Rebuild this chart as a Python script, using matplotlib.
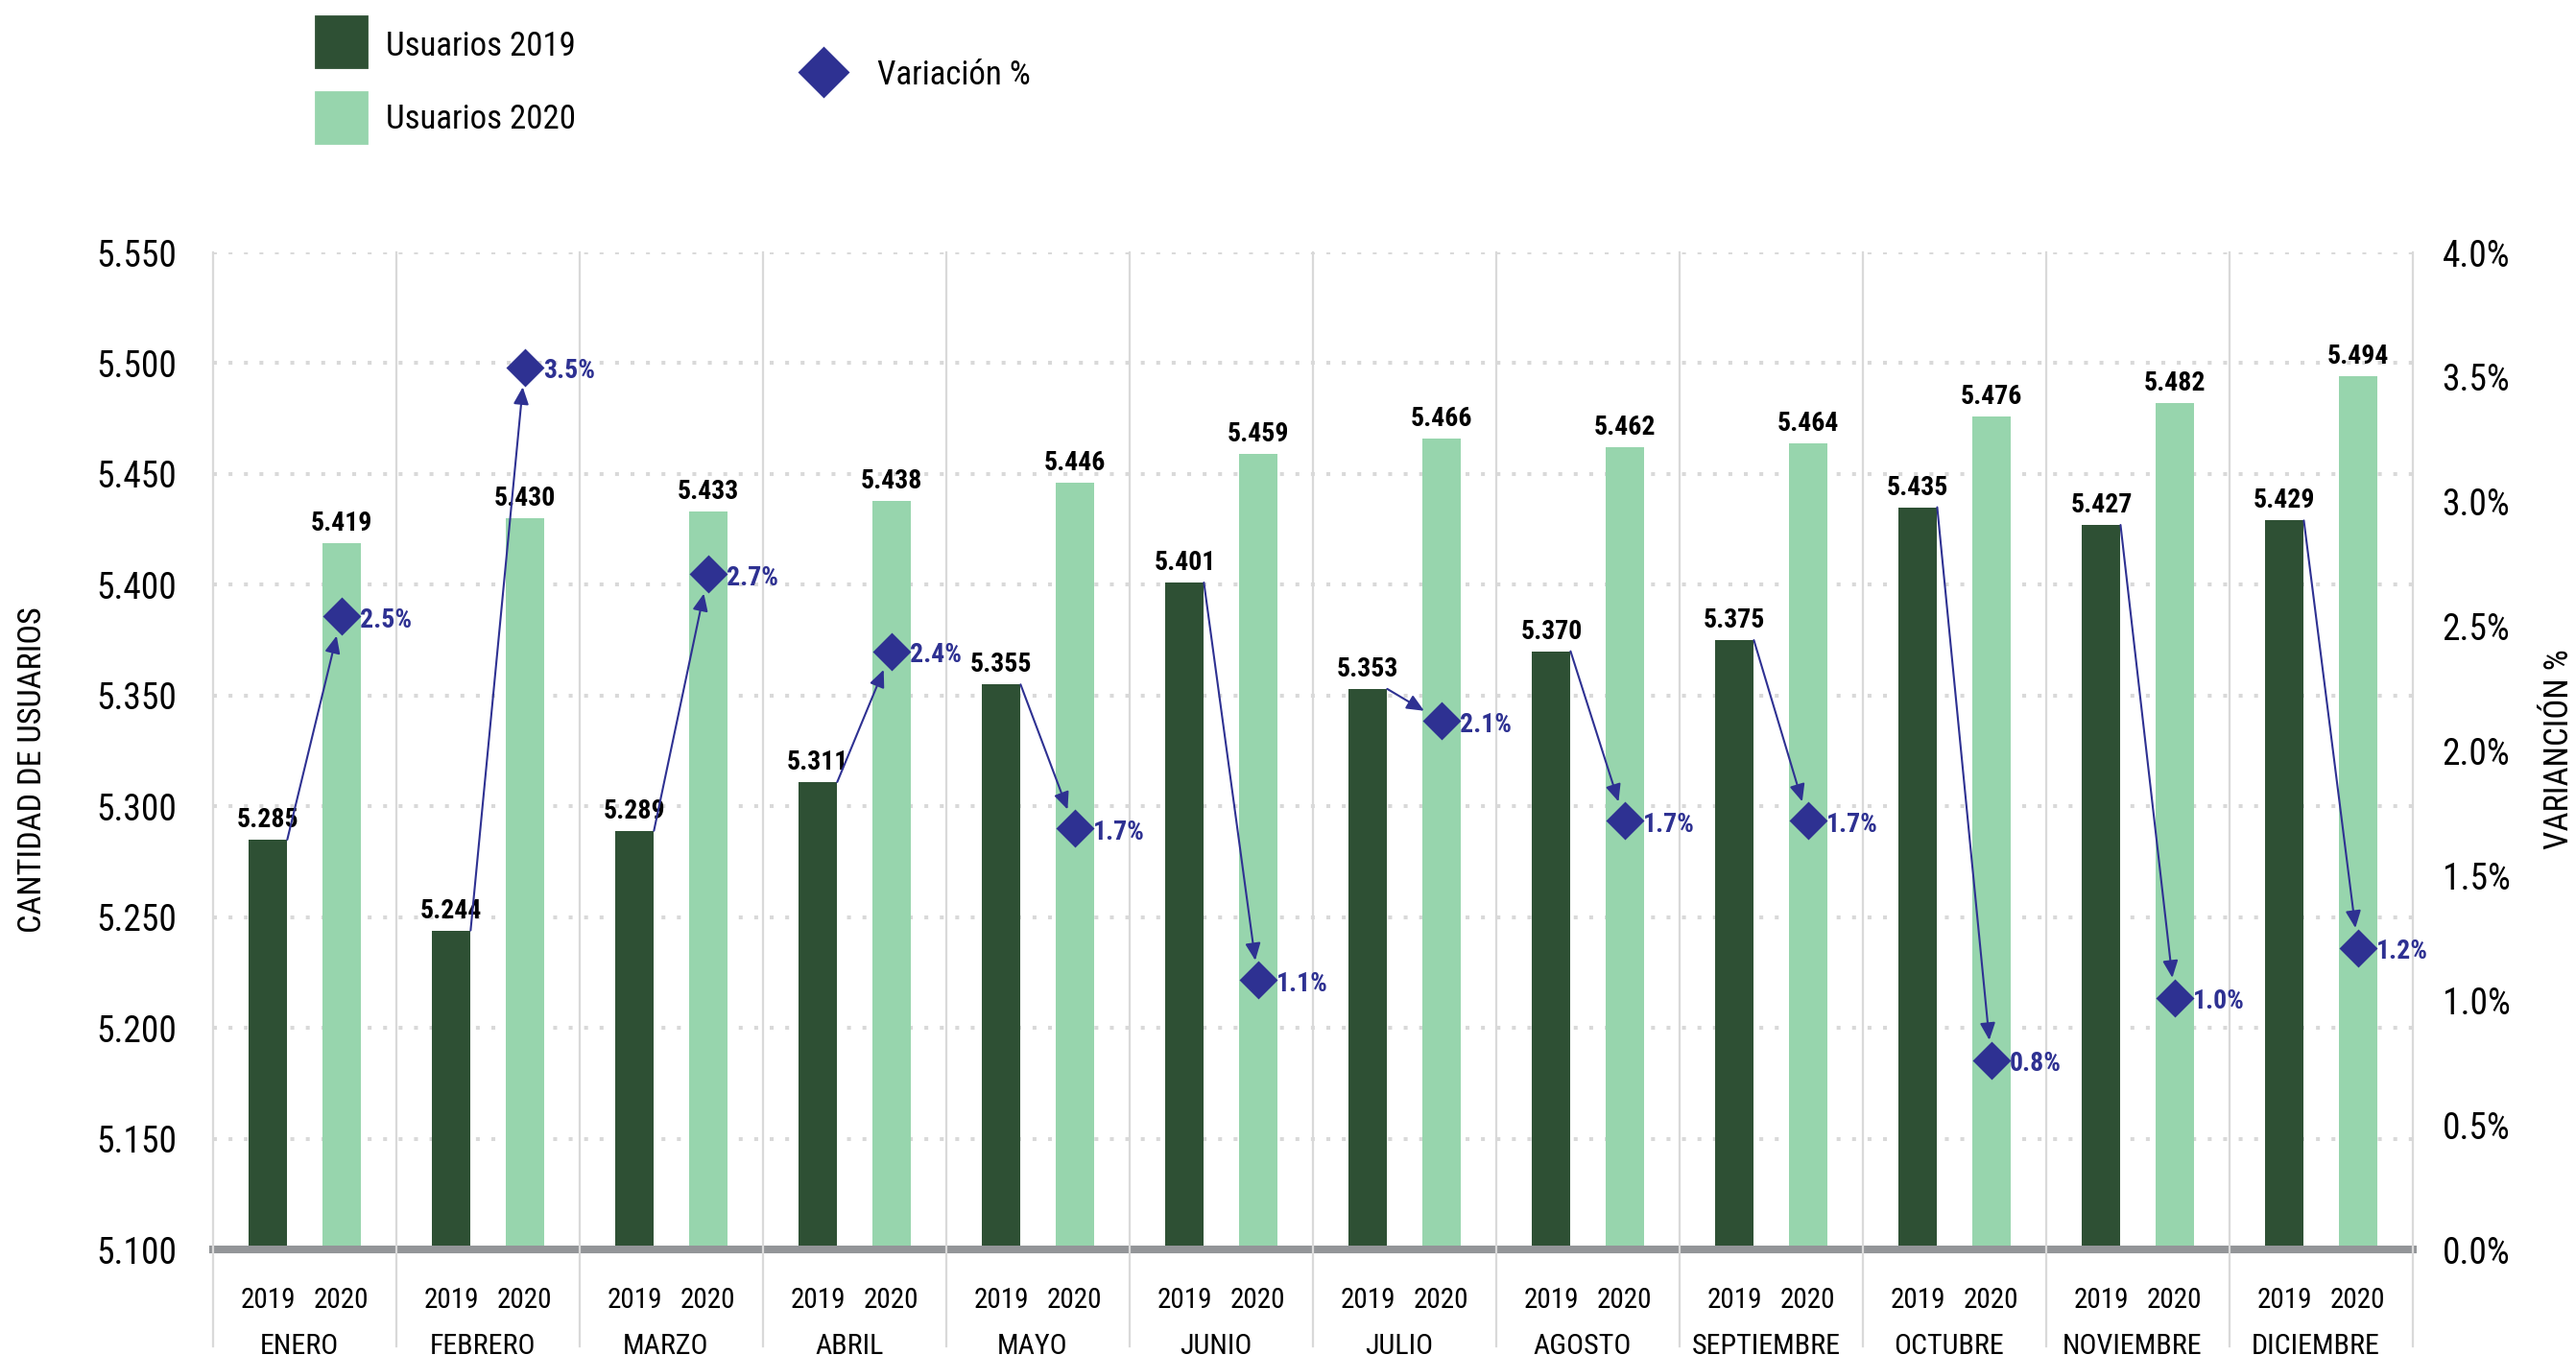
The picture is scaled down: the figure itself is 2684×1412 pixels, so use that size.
import matplotlib
matplotlib.use('Agg')
import matplotlib.pyplot as plt
import matplotlib.transforms as mtransforms
from matplotlib.patches import Rectangle
from matplotlib.lines import Line2D
from matplotlib.ticker import FuncFormatter
import numpy as np

plt.rcParams['font.family'] = ['Roboto Condensed', 'Liberation Sans Narrow', 'Roboto', 'DejaVu Sans']

# ==========================================
# DATA
# ==========================================
months = ['ENERO', 'FEBRERO', 'MARZO', 'ABRIL', 'MAYO', 'JUNIO', 'JULIO',
          'AGOSTO', 'SEPTIEMBRE', 'OCTUBRE', 'NOVIEMBRE', 'DICIEMBRE']
users_2019 = [5.285, 5.244, 5.289, 5.311, 5.355, 5.401, 5.353, 5.370, 5.375, 5.435, 5.427, 5.429]
users_2020 = [5.419, 5.430, 5.433, 5.438, 5.446, 5.459, 5.466, 5.462, 5.464, 5.476, 5.482, 5.494]
variation = [2.54, 3.54, 2.71, 2.40, 1.69, 1.08, 2.12, 1.72, 1.72, 0.76, 1.01, 1.21]
year_labels = ['2019', '2020']

DARK = '#2e5034'
LIGHT = '#97d5ad'
NAVY = '#2e3192'
GRID = '#d9d9d9'

fig = plt.figure(figsize=(13.42, 7.06), dpi=200)
ax = fig.add_axes([0.0827, 0.0779, 0.8540, 0.7358])
ax2 = ax.twinx()

x = np.arange(len(months))
off = 0.2
w = 0.21

ax.bar(x - off, users_2019, w, bottom=0, color=DARK, zorder=2)
ax.bar(x + off, users_2020, w, bottom=0, color=LIGHT, zorder=2)

ax.set_xlim(-0.5, len(months) - 0.5)
ax.set_ylim(5.100, 5.550)
ax2.set_ylim(0, 4.0)

# y ticks
ax.set_yticks(np.arange(5.100, 5.5501, 0.05))
ax.yaxis.set_major_formatter(FuncFormatter(lambda v, p: f"{v:.3f}"))
ax2.set_yticks(np.arange(0, 4.01, 0.5))
ax2.yaxis.set_major_formatter(FuncFormatter(lambda v, p: f"{v:.1f}%"))
ax.tick_params(axis='y', length=0, pad=13.5, labelsize=13.5)
ax2.tick_params(axis='y', length=0, pad=11, labelsize=13.5)
ax.set_xticks([])

# dotted grid
ax.yaxis.grid(True, color=GRID, linewidth=1.45, linestyle=(0, (1, 3)), dash_capstyle='butt')
ax.set_axisbelow(True)

for s in ['top', 'left', 'right']:
    ax.spines[s].set_visible(False)
    ax2.spines[s].set_visible(False)
ax2.spines['bottom'].set_visible(False)
ax.spines['bottom'].set_color('#939598')
ax.spines['bottom'].set_linewidth(2.9)
ax.spines['bottom'].set_zorder(2.5)

# month separators (extend into label area)
trans = mtransforms.blended_transform_factory(ax.transData, ax.transAxes)
for b in np.arange(-0.5, len(months), 1.0):
    ax.plot([b, b], [-0.097, 1.0], transform=trans, color=GRID, lw=0.8,
            clip_on=False, zorder=3)

# bottom labels
for i, m in enumerate(months):
    ax.text(i - off, -0.051, year_labels[0], transform=trans, ha='center', va='center', fontsize=10.5)
    ax.text(i + off, -0.051, year_labels[1], transform=trans, ha='center', va='center', fontsize=10.5)
    ax.text(i - 0.03, -0.097, m, transform=trans, ha='center', va='center', fontsize=10.8)

# value labels
for i in range(len(months)):
    ax.annotate(f"{users_2019[i]:.3f}", (i - off, users_2019[i]), xytext=(0, 2.5),
                textcoords='offset points', ha='center', va='bottom',
                fontsize=10, fontweight='bold', color='black')
    ax.annotate(f"{users_2020[i]:.3f}", (i + off, users_2020[i]), xytext=(0, 2.5),
                textcoords='offset points', ha='center', va='bottom',
                fontsize=10, fontweight='bold', color='black')

# variation markers, labels and arrows
ax2.plot(x + off, variation, linestyle='none', marker='D', markersize=9.4,
         color=NAVY, zorder=5)
for i in range(len(months)):
    ax2.annotate(f"{variation[i]:.1f}%", (i + off, variation[i]), xytext=(7, -1.5),
                 textcoords='offset points', ha='left', va='center',
                 fontsize=10, fontweight='bold', color=NAVY, zorder=6)
    ax2.annotate('', xy=(i + off, variation[i]), xycoords=ax2.transData,
                 xytext=(i - off + w / 2, users_2019[i]), textcoords=ax.transData,
                 arrowprops=dict(arrowstyle='-|>,head_length=0.45,head_width=0.2',
                                 color=NAVY, lw=0.75, shrinkA=0, shrinkB=7.5,
                                 mutation_scale=12),
                 zorder=4)

# axis titles
fig.text(34 / 2684, 0.432, 'CANTIDAD DE USUARIOS', rotation=90, ha='center', va='center', fontsize=12.4)
fig.text(2667 / 2684, 0.447, 'VARIANCIÓN %', rotation=90, ha='center', va='center', fontsize=12.5)

# legend (drawn manually in figure coords)
H, W = 1412, 2684
fig.patches.append(Rectangle((329 / W, 1 - 70 / H), 53 / W, 53 / H, transform=fig.transFigure,
                             color=DARK, figure=fig))
fig.patches.append(Rectangle((329 / W, 1 - 149 / H), 53 / W, 53 / H, transform=fig.transFigure,
                             color=LIGHT, figure=fig))
fig.text(402 / W, 1 - 48 / H, 'Usuarios 2019', ha='left', va='center', fontsize=12.5)
fig.text(402 / W, 1 - 125 / H, 'Usuarios 2020', ha='left', va='center', fontsize=12.5)
fig.lines.append(Line2D([858 / W], [1 - 75 / H], transform=fig.transFigure, marker='D',
                        markersize=12.7, color=NAVY, linestyle='none', figure=fig))
fig.text(914 / W, 1 - 78 / H, 'Variación %', ha='left', va='center', fontsize=12.5)

fig.savefig('out.png', dpi=200)
